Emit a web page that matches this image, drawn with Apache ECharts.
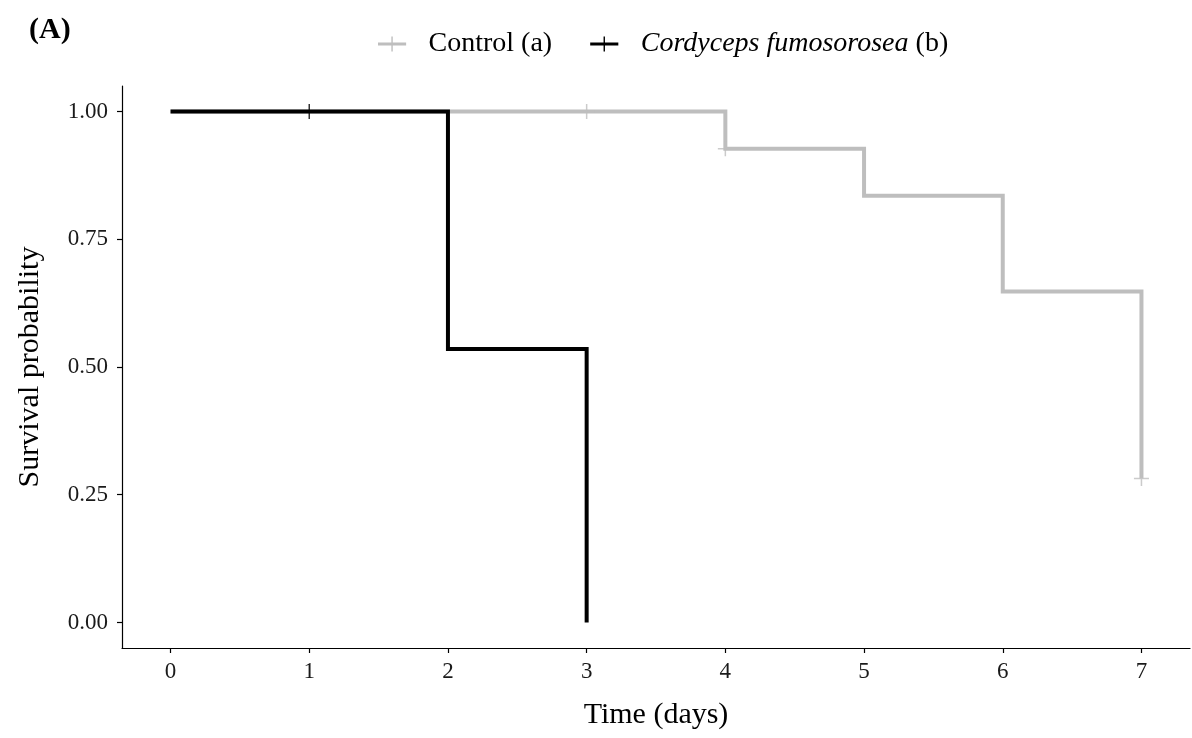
<!DOCTYPE html>
<html>
<head>
<meta charset="utf-8">
<script src="https://cdn.jsdelivr.net/npm/echarts@6/dist/echarts.min.js"></script>
<style>
  html, body { margin: 0; padding: 0; background: #fff; }
  #chart { width: 1192px; height: 738px; }
</style>
</head>
<body>
<div id="chart"></div>
<script>
// ---- data ----
const seriesNames = ['Control (a)', 'Cordyceps fumosorosea (b)'];
const controlTimes = [0, 4, 5, 6, 7];
const controlSurv = [1.00, 0.927, 0.835, 0.648, 0.282];
const cordycepsTimes = [0, 2, 3];
const cordycepsSurv = [1.00, 0.535, 0.00];
const controlCensorTimes = [3, 4, 7];
const controlCensorSurv = [1.00, 0.927, 0.282];
const cordycepsCensorTimes = [1];
const cordycepsCensorSurv = [1.00];
const xTicks = [0, 1, 2, 3, 4, 5, 6, 7];
const yTicks = [0, 0.25, 0.5, 0.75, 1.0];

const FONT = "'Liberation Serif', 'Times New Roman', serif";
const GREY = '#BEBEBE';
const BLACK = '#000000';

const zip = (a, b) => a.map((v, i) => [v, b[i]]);
const plusSymbol = 'path://M0,6.75h15v1.5h-15z M6.75,0h1.5v15h-1.5z';
const legendIcon = 'path://M0,6.5h30v3h-30z M14.25,0h1.5v16h-1.5z';

const chart = echarts.init(document.getElementById('chart'), null, { renderer: 'canvas' });
chart.setOption({
  backgroundColor: '#ffffff',
  animation: false,
  title: {
    text: '(A)',
    left: 24,
    top: 10,
    textStyle: { fontFamily: FONT, fontWeight: 'bold', fontSize: 30, color: '#000' }
  },
  legend: {
    data: seriesNames,
    left: 373,
    top: 25,
    icon: legendIcon,
    itemWidth: 29,
    itemHeight: 15,
    itemGap: 38,
    formatter: function (name) {
      if (name === 'Cordyceps fumosorosea (b)') return '{i|Cordyceps fumosorosea} (b)';
      return name;
    },
    textStyle: {
      fontFamily: FONT,
      fontSize: 28,
      color: '#000',
      padding: [0, 0, 0, 17],
      rich: {
        i: { fontFamily: FONT, fontSize: 28, fontStyle: 'italic', color: '#000' }
      }
    }
  },
  grid: { left: 122, right: 2, top: 86, bottom: 90, containLabel: false },
  xAxis: {
    type: 'value',
    min: -0.35,
    max: 7.35,
    name: 'Time (days)',
    nameLocation: 'middle',
    nameGap: 52,
    nameTextStyle: { fontFamily: FONT, fontSize: 30, color: '#000' },
    splitLine: { show: false },
    axisLine: { show: true, onZero: false, lineStyle: { color: '#000', width: 1.2 } },
    axisTick: { show: true, length: 5, customValues: xTicks, lineStyle: { color: '#000', width: 1.2 } },
    axisLabel: {
      customValues: xTicks,
      margin: 12,
      fontFamily: FONT, fontSize: 23, color: '#1a1a1a'
    }
  },
  yAxis: {
    type: 'value',
    min: -0.05,
    max: 1.05,
    name: 'Survival probability',
    nameLocation: 'middle',
    nameGap: 77,
    nameTextStyle: { fontFamily: FONT, fontSize: 30, color: '#000' },
    splitLine: { show: false },
    axisLine: { show: true, onZero: false, lineStyle: { color: '#000', width: 1.2 } },
    axisTick: { show: true, length: 5, customValues: yTicks, lineStyle: { color: '#000', width: 1.2 } },
    axisLabel: {
      customValues: yTicks,
      margin: 14,
      formatter: v => v.toFixed(2),
      fontFamily: FONT, fontSize: 23, color: '#1a1a1a'
    }
  },
  series: [
    {
      name: seriesNames[0],
      type: 'line',
      step: 'end',
      data: zip(controlTimes, controlSurv),
      showSymbol: false,
      itemStyle: { color: GREY },
      lineStyle: { color: GREY, width: 4, join: 'miter', cap: 'butt' },
      z: 2
    },
    {
      name: seriesNames[1],
      type: 'line',
      step: 'end',
      data: zip(cordycepsTimes, cordycepsSurv),
      showSymbol: false,
      itemStyle: { color: BLACK },
      lineStyle: { color: BLACK, width: 4, join: 'miter', cap: 'butt' },
      z: 3
    },
    {
      name: 'Control censor',
      type: 'scatter',
      data: zip(controlCensorTimes, controlCensorSurv),
      symbol: plusSymbol,
      symbolSize: 15,
      itemStyle: { color: GREY },
      z: 4
    },
    {
      name: 'Cordyceps censor',
      type: 'scatter',
      data: zip(cordycepsCensorTimes, cordycepsCensorSurv),
      symbol: plusSymbol,
      symbolSize: 15,
      itemStyle: { color: BLACK },
      z: 5
    }
  ]
});
</script>
</body>
</html>
